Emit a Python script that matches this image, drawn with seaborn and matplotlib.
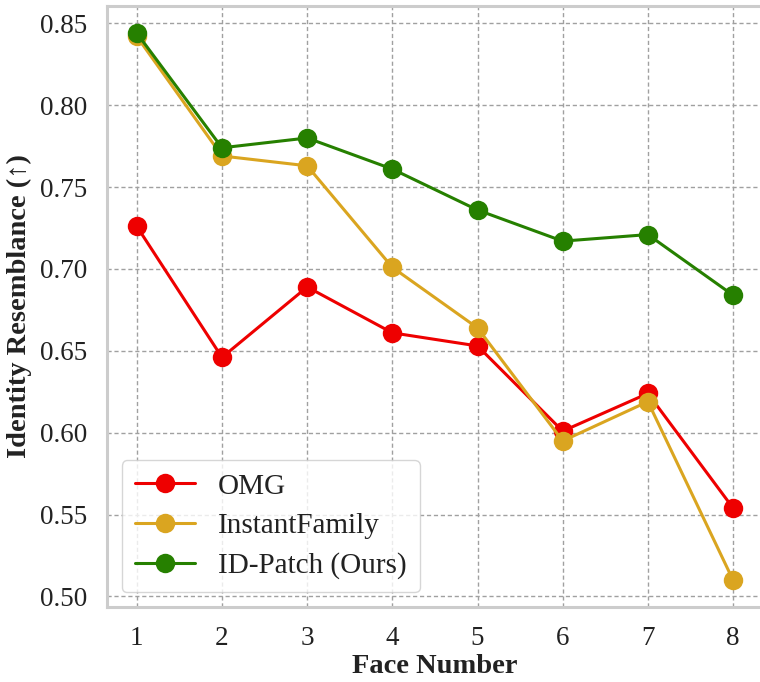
import matplotlib
matplotlib.use("Agg")
import matplotlib.pyplot as plt
import pandas as pd
import seaborn as sns

FACES = [1, 2, 3, 4, 5, 6, 7, 8]
OMG = [0.726, 0.646, 0.689, 0.661, 0.653, 0.601, 0.624, 0.554]
INSTANT_FAMILY = [0.842, 0.769, 0.763, 0.701, 0.664, 0.595, 0.619, 0.510]
ID_PATCH = [0.844, 0.774, 0.780, 0.761, 0.736, 0.717, 0.721, 0.684]

METHODS = ["OMG", "InstantFamily", "ID-Patch (Ours)"]
COLORS = ["#ee0000", "#daa520", "#268000"]

df = pd.DataFrame({
    "Face Number": FACES * 3,
    "Score": OMG + INSTANT_FAMILY + ID_PATCH,
    "Method": [m for m in METHODS for _ in FACES],
})

sns.set_theme(style="whitegrid")
plt.rcParams["font.family"] = ["Liberation Serif", "DejaVu Serif"]

fig = plt.figure(figsize=(7.6, 6.82), dpi=100)
ax = fig.add_axes([0.1408, 0.110, 0.863, 0.881])

sns.lineplot(
    data=df, x="Face Number", y="Score", hue="Method",
    palette=dict(zip(METHODS, COLORS)), hue_order=METHODS,
    marker="o", markersize=14, markeredgewidth=0, linewidth=2.2,
    ax=ax,
)

ax.set_xlim(0.65, 8.35)
ax.set_ylim(0.4936, 0.8605)
ax.set_xticks(FACES)
ax.set_yticks([0.50, 0.55, 0.60, 0.65, 0.70, 0.75, 0.80, 0.85])
ax.set_yticklabels([f"{v:.2f}" for v in ax.get_yticks()])
ax.tick_params(labelsize=19.5, colors="#222222", pad=8)

ax.grid(True, linestyle=(0, (3, 2)), color="#a0a0a0", linewidth=1.0)
for spine in ax.spines.values():
    spine.set_color("#cccccc")
    spine.set_linewidth(2.2)

ax.set_xlabel("Face Number", fontsize=20.5, fontweight="bold", color="#222222", labelpad=2)
ax.set_ylabel("Identity Resemblance (↑)", fontsize=20.5, fontweight="bold", color="#222222", labelpad=6)

leg = ax.legend(loc="lower left", fontsize=21, frameon=True, handlelength=2.05,
                borderaxespad=0.5, labelspacing=0.45, handletextpad=0.8,
                borderpad=0.45)
leg.get_frame().set_edgecolor("#cccccc")
for t in leg.get_texts():
    t.set_color("#222222")

fig.savefig("out.png", dpi=100)
